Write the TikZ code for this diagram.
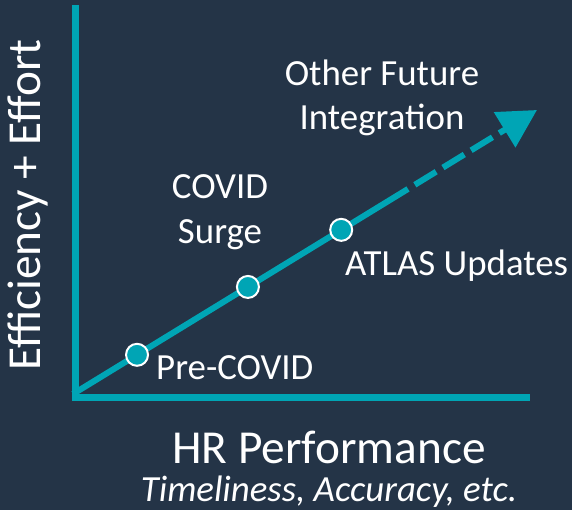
\documentclass[tikz,border=0pt]{standalone}
\usepackage{fontspec}
\setmainfont{Carlito}
\usetikzlibrary{arrows.meta, calc}

\definecolor{slate}{HTML}{243447}
\definecolor{aqua}{HTML}{00A5B5}

\begin{document}
\begin{tikzpicture}[x=1bp, y=-1bp]
	\tikzstyle{axis} = [
		draw=aqua, line width=7bp
	]
	\tikzstyle{trend} = [
		draw=aqua, line width=6bp
	]
	\tikzstyle{milestone} = [
		circle, fill=aqua, draw=white, line width=2bp, minimum size=22bp, inner sep=0pt
	]
	\tikzstyle{caption} = [
		text=white, inner sep=0pt, align=center, font=\fontsize{37}{45}\selectfont
	]
	\tikzstyle{axislabel} = [
		text=white, inner sep=0pt, font=\fontsize{47.5}{50}\selectfont
	]

	% Background
	\fill[slate] (0,0) rectangle (572,510);
	\useasboundingbox (0,0) rectangle (572,510);

	% Axes
	\coordinate (Origin) at (75,397);
	\coordinate (Ytop) at (75,5);
	\coordinate (Xend) at (530,397);
	\draw[axis] (Ytop) -- (Origin) -- (Xend);

	% Trend line
	\coordinate (Start) at (73,394);
	\coordinate (Tip) at (537,110);
	\coordinate (DashStart) at ($(Start)!0.722!(Tip)$);
	\draw[trend] (Start) -- (DashStart);
	\draw[trend, dash pattern=on 25bp off 8bp, dash phase=25bp, -{Triangle[length=38bp, width=40bp]}] (DashStart) -- (Tip);

	% Milestones
	\node (PreCovid) [milestone] at ($(Start)!0.138!(Tip)$) {};
	\node (Surge) [milestone] at ($(Start)!0.377!(Tip)$) {};
	\node (Atlas) [milestone] at ($(Start)!0.578!(Tip)$) {};

	% Captions (base = last line)
	\node (PreCovidText) [caption, anchor=base west] at (156,379) {Pre-COVID};
	\node (SurgeText) [caption, anchor=base] at (220,243) {COVID\\Surge};
	\node (AtlasText) [caption, anchor=base west] at (345,275) {ATLAS Updates};
	\node (FutureText) [caption, anchor=base] at (382,130) {Other Future\\Integration};

	% Axis labels
	\node (YLabel) [axislabel, rotate=90, anchor=base] at (40,205) {Efficiency + Effort};
	\node (XLabel) [axislabel, anchor=base] at (329,463) {HR Performance};
	\node (XSub) [caption, anchor=base, font=\fontsize{37}{40}\selectfont\itshape] at (329,501) {Timeliness, Accuracy, etc.};

\end{tikzpicture}
\end{document}
